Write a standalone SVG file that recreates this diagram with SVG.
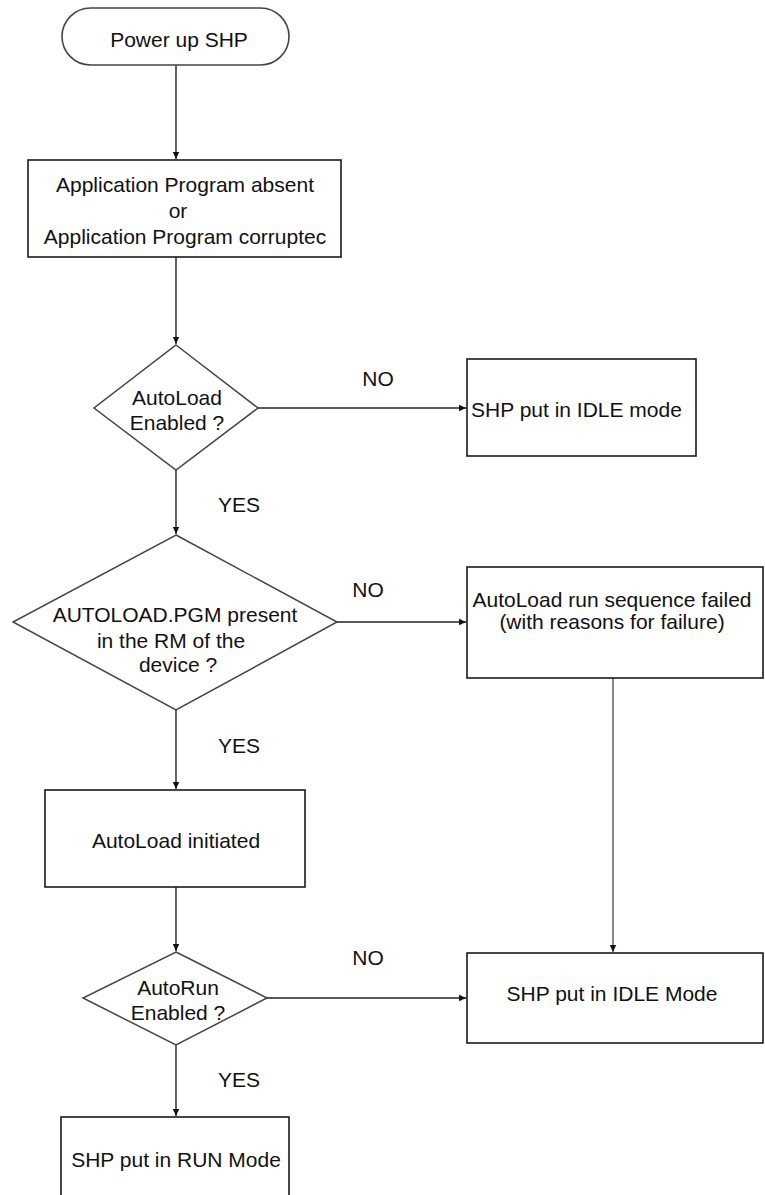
<svg xmlns="http://www.w3.org/2000/svg" width="765" height="1195" viewBox="0 0 765 1195">
<defs>
<style>
.box{fill:#fff;stroke:#1a1a1a;stroke-width:1.6}
.dia{fill:#fff;stroke:#444;stroke-width:1.5}
.ln{fill:none;stroke:#222;stroke-width:1.4}
.t{font-family:"Liberation Sans",Arial,sans-serif;font-size:21px;fill:#111}
.c{text-anchor:middle}
</style>
<marker id="ah" markerWidth="8" markerHeight="8" refX="7" refY="4" orient="auto" markerUnits="userSpaceOnUse">
<path d="M0,0.8 L7,4 L0,7.2 z" fill="#111"/>
</marker>
</defs>
<rect width="765" height="1195" fill="#fff"/>
<g id="connectors">
<line class="ln" x1="176" y1="65" x2="176" y2="159" marker-end="url(#ah)"/>
<line class="ln" x1="176" y1="257" x2="176" y2="344" marker-end="url(#ah)"/>
<line class="ln" x1="258" y1="408" x2="466" y2="408" marker-end="url(#ah)"/>
<text class="t c" x="378" y="386">NO</text>
<line class="ln" x1="176" y1="470" x2="176" y2="534" marker-end="url(#ah)"/>
<text class="t c" x="239" y="512">YES</text>
<line class="ln" x1="337" y1="622" x2="466" y2="622" marker-end="url(#ah)"/>
<text class="t c" x="368" y="597">NO</text>
<line class="ln" x1="613" y1="678" x2="613" y2="952" marker-end="url(#ah)" style="stroke:#555"/>
<line class="ln" x1="176" y1="710" x2="176" y2="789" marker-end="url(#ah)"/>
<text class="t c" x="239" y="753">YES</text>
<line class="ln" x1="176" y1="887" x2="176" y2="951" marker-end="url(#ah)"/>
<line class="ln" x1="267" y1="998" x2="466" y2="998" marker-end="url(#ah)"/>
<text class="t c" x="368" y="965">NO</text>
<line class="ln" x1="176" y1="1045" x2="176" y2="1116" marker-end="url(#ah)"/>
<text class="t c" x="239" y="1087">YES</text>
</g>
<g id="start">
<rect class="box" x="62" y="8" width="227" height="57" rx="28.5" ry="28.5" style="stroke:#444"/>
<text class="t c" x="179" y="47">Power up SHP</text>
</g>
<g id="app-absent">
<rect class="box" x="28" y="160" width="313" height="97"/>
<text class="t c" x="185" y="192">Application Program absent</text>
<text class="t c" x="178" y="218">or</text>
<text class="t c" x="185" y="244">Application Program corruptec</text>
</g>
<g id="autoload-enabled">
<polygon class="dia" points="176,345 258,408 176,470 94,408"/>
<text class="t c" x="177" y="405">AutoLoad</text>
<text class="t c" x="177" y="430">Enabled ?</text>
</g>
<g id="idle-1">
<rect class="box" x="467" y="359" width="229" height="97"/>
<text class="t" x="471" y="417">SHP put in IDLE mode</text>
</g>
<g id="pgm-present">
<polygon class="dia" points="176,535 337,622 176,710 13,622"/>
<text class="t c" x="175" y="622">AUTOLOAD.PGM present</text>
<text class="t c" x="171" y="648">in the RM of the</text>
<text class="t c" x="178" y="672">device ?</text>
</g>
<g id="failed">
<rect class="box" x="467" y="567" width="296" height="111"/>
<text class="t c" x="612" y="607">AutoLoad run sequence failed</text>
<text class="t c" x="612" y="629">(with reasons for failure)</text>
</g>
<g id="initiated">
<rect class="box" x="45" y="790" width="260" height="97"/>
<text class="t c" x="176" y="848">AutoLoad initiated</text>
</g>
<g id="autorun-enabled">
<polygon class="dia" points="176,952 267,998 176,1045 83,998"/>
<text class="t c" x="178" y="995">AutoRun</text>
<text class="t c" x="178" y="1020">Enabled ?</text>
</g>
<g id="idle-2">
<rect class="box" x="467" y="953" width="296" height="90"/>
<text class="t c" x="612" y="1001">SHP put in IDLE Mode</text>
</g>
<g id="run">
<rect class="box" x="61" y="1117" width="228" height="100"/>
<text class="t c" x="176" y="1167">SHP put in RUN Mode</text>
</g>
</svg>
